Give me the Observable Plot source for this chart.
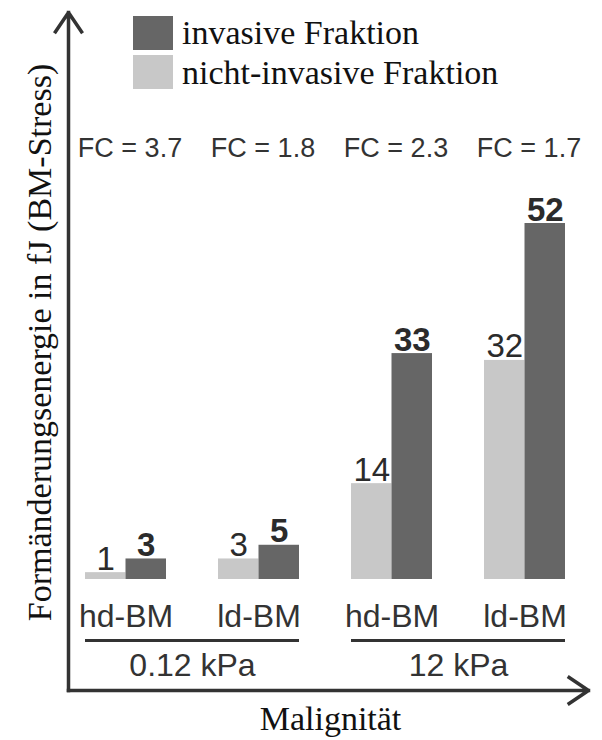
<!DOCTYPE html>
<html><head><meta charset="utf-8">
<script src="https://cdn.jsdelivr.net/npm/d3@7"></script>
<script src="https://cdn.jsdelivr.net/npm/@observablehq/plot@0.6"></script>
<style>
body{margin:0;background:#fff;}
#wrap{position:relative;width:602px;height:740px;}
#legend{position:absolute;left:133px;top:13px;font-family:"Liberation Serif","Times New Roman",serif;font-size:34px;color:#111;}
.row{display:flex;align-items:center;height:39.5px;}
.row span{line-height:39.5px;display:block;white-space:nowrap;}
.sw{width:40px;height:34px;margin-right:9px;flex:none;}
</style></head><body><div id="wrap"><div id="legend"></div></div>
<script>
// ---- data ----
const groups = ["hd-BM", "ld-BM", "hd-BM", "ld-BM"];
const groupPressure = ["0.12 kPa", "0.12 kPa", "12 kPa", "12 kPa"];
const pressures = ["0.12 kPa", "12 kPa"];
const nichtInvasive = [1, 3, 14, 32];
const invasive = [3, 5, 33, 52];
const foldChange = ["3.7", "1.8", "2.3", "1.7"];
const fractions = ["invasive Fraktion", "nicht-invasive Fraktion"];
const yTitle = "Formänderungsenergie in fJ (BM-Stress)";
const xTitle = "Malignität";

// ---- layout / style ----
const W = 602, H = 740;
const mL = 68, mR = 14, mT = 12, mB = 50;
const step = 133, c0 = 125.5;          // px between group centres, centre of first group
const base = 579, k = 6.846;           // baseline px, px per unit
const xmin = (mL - c0) / step, xmax = (W - mR - c0) / step;
const ymin = -((H - mB) - base) / k, ymax = (base - mT) / k;
const hw = 40.5 / step;                // bar width in x units
const colors = ["#666666", "#c8c8c8"];
const sans = "'Liberation Sans', Arial, sans-serif";
const serif = "'Liberation Serif', 'Times New Roman', serif";

const cats = groups.map((g, i) => ({i, group: g, fc: foldChange[i]}));
const bars = [];
groups.forEach((g, i) => {
  bars.push({i, side: -1, fraction: fractions[1], value: nichtInvasive[i]});
  bars.push({i, side: 1, fraction: fractions[0], value: invasive[i]});
});
const press = pressures.map((p) => {
  const idx = groupPressure.map((q, i) => q === p ? i : -1).filter(i => i >= 0);
  return {label: p, a: d3.min(idx), b: d3.max(idx)};
});
const axes = [
  {x1: xmin, y1: ymin, x2: xmin, y2: ymax},
  {x1: xmin, y1: ymin, x2: xmax, y2: ymin}
];
const valueLabel = (side, weight) => Plot.text(bars.filter(d => d.side === side), {
  x: d => d.i + d.side * hw / 2, y: "value", text: d => String(d.value),
  lineAnchor: "bottom", dy: -3, fontSize: 33, fontFamily: sans,
  fontWeight: weight, fill: "#2b2b2b"
});

const plot = Plot.plot({
  width: W, height: H,
  marginLeft: mL, marginRight: mR, marginTop: mT, marginBottom: mB,
  x: {type: "linear", domain: [xmin, xmax], axis: null},
  y: {domain: [ymin, ymax], axis: null},
  color: {domain: fractions, range: colors},
  marks: [
    Plot.rect(bars, {
      x1: d => d.side < 0 ? d.i - hw : d.i,
      x2: d => d.side < 0 ? d.i : d.i + hw,
      y1: 0, y2: "value", fill: "fraction"
    }),
    valueLabel(-1, "normal"),
    valueLabel(1, "bold"),
    Plot.text(cats, {
      x: "i", y: () => 0, text: "group", dy: 37, lineAnchor: "middle",
      fontSize: 32, fontFamily: sans, fill: "#333"
    }),
    Plot.text(cats, {
      x: "i", frameAnchor: "top", text: d => `FC = ${d.fc}`, dy: 136, dx: 4, lineAnchor: "middle",
      fontSize: 27, fontFamily: sans, fill: "#333"
    }),
    Plot.ruleY(press, {
      x1: d => d.a - hw, x2: d => d.b + hw, y: () => 0, dy: 61,
      stroke: "#333", strokeWidth: 3
    }),
    Plot.text(press, {
      x: d => (d.a + d.b) / 2, y: () => 0, text: "label", dy: 86, lineAnchor: "middle",
      fontSize: 32, fontFamily: sans, fill: "#333"
    }),
    Plot.arrow(axes, {
      x1: "x1", y1: "y1", x2: "x2", y2: "y2",
      stroke: "#333", strokeWidth: 3.5, headLength: 10, headAngle: 68,
      strokeLinecap: "square"
    }),
    Plot.text([xTitle], {
      text: d => d, frameAnchor: "bottom", dy: 29, dx: 2, lineAnchor: "middle",
      fontSize: 34, fontFamily: serif, fill: "#111"
    }),
    Plot.text([yTitle], {
      text: d => d, frameAnchor: "left", textAnchor: "middle", rotate: -90,
      dx: -28, dy: -9, lineAnchor: "middle",
      fontSize: 34, fontFamily: serif, fill: "#111"
    })
  ]
});
document.getElementById("wrap").prepend(plot);

// legend built from the colour scale
const cs = plot.scale("color");
const leg = document.getElementById("legend");
cs.domain.forEach((name, j) => {
  const row = document.createElement("div");
  row.className = "row";
  const sw = document.createElement("div");
  sw.className = "sw";
  sw.style.background = cs.range[j];
  const t = document.createElement("span");
  t.textContent = name;
  row.append(sw, t);
  leg.append(row);
});
</script></body></html>
